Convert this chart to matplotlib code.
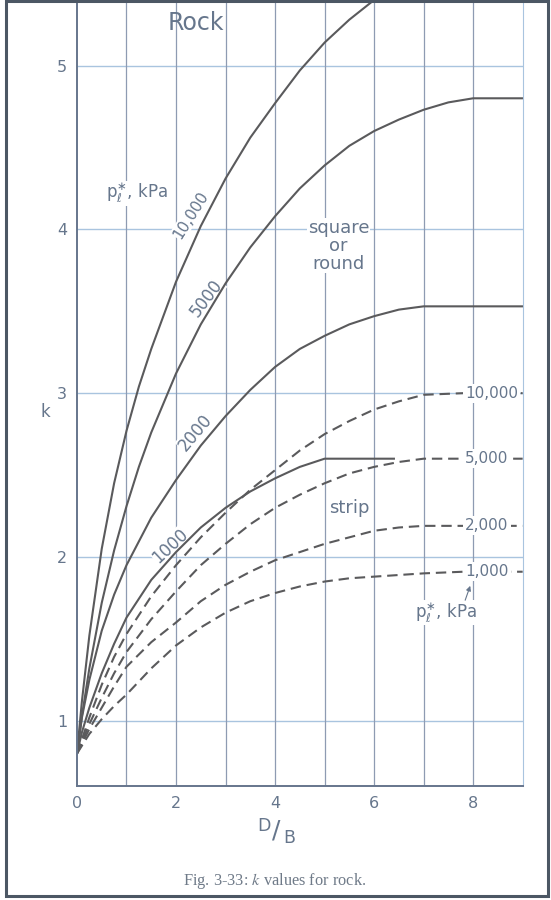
import numpy as np
import matplotlib
matplotlib.use("Agg")
import matplotlib.pyplot as plt
from matplotlib.patches import Rectangle

# k values for rock (x = D/B)
# square or round footings (solid)
xs_sq_10000 = [0, 0.1, 0.25, 0.5, 0.75, 1, 1.25, 1.5, 2, 2.5, 3, 3.5, 4, 4.5, 5, 5.5, 6, 6.5]
k_sq_10000 = [0.80, 1.12, 1.52, 2.05, 2.45, 2.77, 3.04, 3.27, 3.68, 4.02, 4.31, 4.56, 4.77, 4.97, 5.14, 5.28, 5.40, 5.50]

xs_sq_5000 = [0, 0.1, 0.25, 0.5, 0.75, 1, 1.25, 1.5, 2, 2.5, 3, 3.5, 4, 4.5, 5, 5.5, 6, 6.5, 7, 7.5, 8, 9]
k_sq_5000 = [0.80, 1.03, 1.32, 1.72, 2.04, 2.31, 2.55, 2.76, 3.12, 3.42, 3.67, 3.89, 4.08, 4.25, 4.39, 4.51, 4.60, 4.67, 4.73, 4.775, 4.80, 4.80]

xs_sq_2000 = [0, 0.1, 0.25, 0.5, 0.75, 1, 1.5, 2, 2.5, 3, 3.5, 4, 4.5, 5, 5.5, 6, 6.5, 7, 9]
k_sq_2000 = [0.80, 1.02, 1.25, 1.55, 1.77, 1.95, 2.24, 2.47, 2.68, 2.86, 3.02, 3.16, 3.27, 3.35, 3.42, 3.47, 3.51, 3.53, 3.53]

xs_sq_1000 = [0, 0.1, 0.25, 0.5, 0.75, 1, 1.5, 2, 2.5, 3, 3.5, 4, 4.5, 5, 6.4]
k_sq_1000 = [0.80, 0.93, 1.08, 1.29, 1.47, 1.63, 1.86, 2.03, 2.18, 2.30, 2.40, 2.48, 2.55, 2.60, 2.60]

# strip footings (dashed)
xs_strip = [0, 0.25, 0.5, 0.75, 1, 1.5, 2, 2.5, 3, 3.5, 4, 4.5, 5, 5.5, 6, 6.5, 7, 7.8, 9]
k_st_10000 = [0.80, 1.02, 1.22, 1.39, 1.53, 1.76, 1.95, 2.12, 2.27, 2.41, 2.53, 2.65, 2.75, 2.83, 2.90, 2.95, 2.99, 3.00, 3.00]
k_st_5000 = [0.80, 0.98, 1.14, 1.29, 1.42, 1.62, 1.79, 1.95, 2.08, 2.20, 2.30, 2.38, 2.45, 2.51, 2.55, 2.58, 2.60, 2.60, 2.60]
k_st_2000 = [0.80, 0.95, 1.08, 1.21, 1.33, 1.48, 1.60, 1.73, 1.83, 1.91, 1.98, 2.03, 2.08, 2.12, 2.16, 2.18, 2.19, 2.19, 2.19]
k_st_1000 = [0.80, 0.92, 1.01, 1.09, 1.16, 1.32, 1.46, 1.57, 1.66, 1.73, 1.78, 1.82, 1.85, 1.87, 1.88, 1.89, 1.90, 1.91, 1.91]

strip_labels = ["10,000", "5,000", "2,000", "1,000"]
square_labels = ["10,000", "5000", "2000", "1000"]
x_ticks = [0, 2, 4, 6, 8]
y_ticks = [1, 2, 3, 4, 5]

ink = "#5a5a5c"
txt = "#66768c"
hgrid = "#a9c4df"
vgrid = "#8e9bb2"

fig = plt.figure(figsize=(5.51, 9.0), dpi=100)
ax = fig.add_axes([0.1397, 0.1263, 0.8089, 0.8737])
ax.set_xlim(0, 9)
ax.set_ylim(0.6, 5.4)

for k in y_ticks:
    ax.axhline(k, color=hgrid, lw=1.0, zorder=0.5)
for x in range(1, 9):
    ax.axvline(x, color=vgrid, lw=0.9, zorder=0.5)

ax.spines["top"].set_visible(False)
ax.spines["right"].set_color(hgrid)
for s in ["left", "bottom"]:
    ax.spines[s].set_color("#66758c")
    ax.spines[s].set_linewidth(1.4)

ax.set_xticks(x_ticks)
ax.set_yticks(y_ticks)
ax.tick_params(length=0, labelsize=11.5, colors=txt, pad=7)

lw = 1.5
ax.plot(xs_sq_10000, k_sq_10000, color=ink, lw=lw, zorder=2)
ax.plot(xs_sq_5000, k_sq_5000, color=ink, lw=lw, zorder=2)
ax.plot(xs_sq_2000, k_sq_2000, color=ink, lw=lw, zorder=2)
ax.plot(xs_sq_1000, k_sq_1000, color=ink, lw=lw, zorder=2)

dash = (0, (5, 2.8))
for ks in [k_st_10000, k_st_5000, k_st_2000, k_st_1000]:
    ax.plot(xs_strip, ks, color=ink, lw=lw, ls=dash, zorder=2)

# labels along the square/round curves
box = dict(facecolor="white", edgecolor="none", pad=0.5)
ax.text(2.30, 4.09, square_labels[0], rotation=58, ha="center", va="center",
        fontsize=11, color=txt, bbox=box, zorder=1.5)
ax.text(2.62, 3.58, square_labels[1], rotation=53, ha="center", va="center",
        fontsize=12, color=txt, bbox=box, zorder=1.5)
ax.text(2.40, 2.76, square_labels[2], rotation=50, ha="center", va="center",
        fontsize=12, color=txt, bbox=box, zorder=1.5)
ax.text(1.89, 2.07, square_labels[3], rotation=43, ha="center", va="center",
        fontsize=12, color=txt, bbox=box, zorder=1.5)

# labels at the right end of the strip curves
for lab, ks in zip(strip_labels, [k_st_10000, k_st_5000, k_st_2000, k_st_1000]):
    ax.text(7.84, ks[-1], lab, ha="left", va="center", fontsize=11, color=txt,
            bbox=dict(facecolor="white", edgecolor="none", pad=1.5), zorder=3)

ax.text(2.4, 5.26, "Rock", ha="center", va="center", fontsize=17, color=txt)
ax.text(5.28, 3.90, "square\nor\nround", ha="center", va="center", fontsize=13,
        color=txt, linespacing=1.0, bbox=box, zorder=1.5)
ax.text(5.5, 2.30, "strip", ha="center", va="center", fontsize=13, color=txt,
        bbox=box, zorder=1.5)
ax.text(1.22, 4.22, r"p$_\ell^{\ast}$, kPa", ha="center", va="center", fontsize=12,
        color=txt, bbox=box, zorder=1.5)
ax.text(7.45, 1.66, r"p$_\ell^{\ast}$, kPa", ha="center", va="center", fontsize=12,
        color=txt, bbox=box, zorder=1.5)
ax.annotate("", xy=(7.96, 1.84), xytext=(7.82, 1.72),
            arrowprops=dict(arrowstyle="-|>", color=txt, lw=0.8, mutation_scale=7))

ax.set_ylabel("k", fontsize=12, color=txt, rotation=0)
ax.yaxis.set_label_coords(-0.072, 0.465)

# D/B axis title, written as a slanted fraction
fig.text(264 / 551, 1 - 826 / 900, "D", ha="center", va="center", fontsize=12.5, color=txt)
fig.text(276 / 551, 1 - 831 / 900, "/", ha="center", va="center", fontsize=18, color=txt)
fig.text(289 / 551, 1 - 838 / 900, "B", ha="center", va="center", fontsize=12.5, color=txt)

fig.text(0.499, 0.021, r"Fig. 3-33: $\it{k}$ values for rock.", ha="center", va="center",
         fontsize=11.8, color="#6f7a88", family="Liberation Serif", math_fontfamily="stix")

fig.patches.append(Rectangle((0.010, 0.004), 0.985, 0.995, transform=fig.transFigure,
                             fill=False, edgecolor="#4c5764", lw=2.2))

fig.savefig("out.png", dpi=100)
